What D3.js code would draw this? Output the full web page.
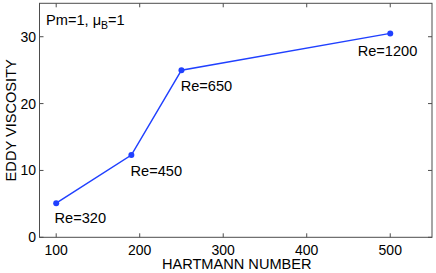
<!DOCTYPE html>
<html><head><meta charset="utf-8">
<script src="https://cdn.jsdelivr.net/npm/d3@7"></script>
<style>body{margin:0;background:#fff}svg{display:block}text{font-family:"Liberation Sans",Arial,sans-serif}</style>
</head><body>
<svg id="c" width="436" height="273"></svg>
<script>
const hartmann = [100, 190, 250, 500];
const eddyVisc = [5.1, 12.3, 25.0, 30.5];
const reLabels = ["Re=320", "Re=450", "Re=650", "Re=1200"];
const labelX = [98, 189, 249, 461];
const labelY = [2.9, 9.9, 22.6, 27.9];
const xTicks = [100, 200, 300, 400, 500];
const yTicks = [0, 10, 20, 30];
const xTitle = "HARTMANN NUMBER";
const yTitle = "EDDY VISCOSITY";

const svg = d3.select("#c");
const L = 39.5, R = 432, T = 3.3, B = 237.3;
const x = d3.scaleLinear().domain([80, 550]).range([L, R]);
const y = d3.scaleLinear().domain([0, 35]).range([B, T]);
const axCol = "#4d4d4d", fs = 14, fsL = 14.6;

svg.append("rect").attr("x", L).attr("y", T).attr("width", R - L).attr("height", B - T)
  .attr("fill", "none").attr("stroke", axCol).attr("stroke-width", 1);

const g = svg.append("g");
const tl = 4;
xTicks.forEach(v => {
  g.append("line").attr("x1", x(v)).attr("x2", x(v)).attr("y1", B).attr("y2", B - tl).attr("stroke", axCol);
  g.append("line").attr("x1", x(v)).attr("x2", x(v)).attr("y1", T).attr("y2", T + tl).attr("stroke", axCol);
  g.append("text").attr("x", x(v)).attr("y", 255).attr("text-anchor", "middle").attr("font-size", fs).attr("fill", "#000").text(v);
});
yTicks.forEach(v => {
  g.append("line").attr("x1", L).attr("x2", L + tl).attr("y1", y(v)).attr("y2", y(v)).attr("stroke", axCol);
  g.append("line").attr("x1", R).attr("x2", R - tl).attr("y1", y(v)).attr("y2", y(v)).attr("stroke", axCol);
  g.append("text").attr("x", 36).attr("y", y(v) + 5).attr("text-anchor", "end").attr("font-size", fs).attr("fill", "#000").text(v);
});

svg.append("text").attr("x", (L + R) / 2 + 1).attr("y", 268.5).attr("text-anchor", "middle")
  .attr("font-size", fsL).text(xTitle);
svg.append("text").attr("transform", `translate(15.5,${(T + B) / 2}) rotate(-90)`).attr("text-anchor", "middle")
  .attr("font-size", fsL).text(yTitle);

const pts = hartmann.map((h, i) => [h, eddyVisc[i]]);
svg.append("path").datum(pts)
  .attr("d", d3.line().x(d => x(d[0])).y(d => y(d[1])))
  .attr("fill", "none").attr("stroke", "#2040ff").attr("stroke-width", 1.5);
svg.selectAll("circle.p").data(pts).enter().append("circle")
  .attr("cx", d => x(d[0])).attr("cy", d => y(d[1])).attr("r", 3).attr("fill", "#2040ff");

svg.selectAll("text.lab").data(reLabels).enter().append("text")
  .attr("x", (d, i) => x(labelX[i])).attr("y", (d, i) => y(labelY[i]) + 5)
  .attr("font-size", fsL).text(d => d);

const t = svg.append("text").attr("x", 46).attr("y", 25).attr("font-size", fsL);
t.append("tspan").text("Pm=1, \u03bc");
t.append("tspan").attr("font-size", 10.5).attr("dy", 4).text("B");
t.append("tspan").attr("dy", -4).text("=1");
</script>
</body></html>
